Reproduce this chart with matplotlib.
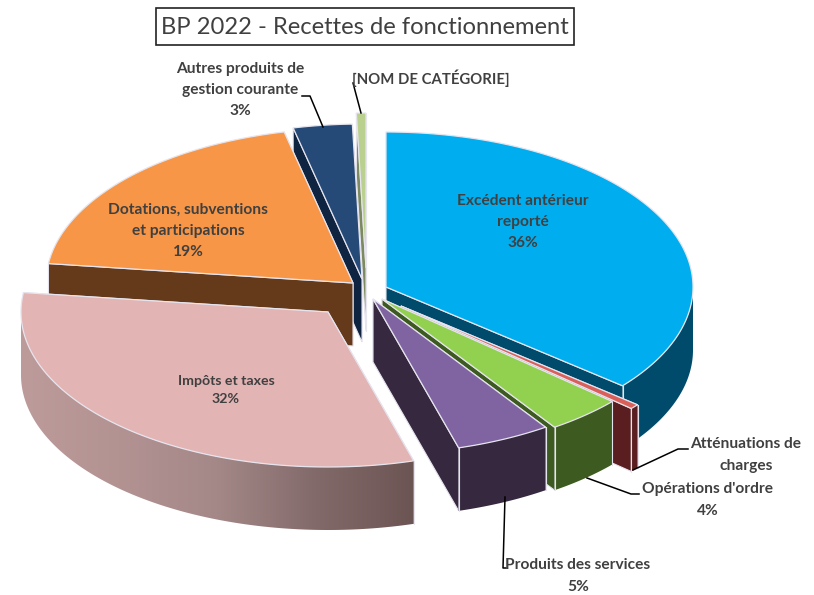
import numpy as np
import matplotlib
matplotlib.use("Agg")
import matplotlib.pyplot as plt
from matplotlib.colors import LinearSegmentedColormap
from matplotlib.patches import Polygon, Rectangle

# 1. Chart data (% of the budget, clockwise from the top)
categories = ["Excédent antérieur reporté", "Atténuations de charges", "Opérations d'ordre",
              "Produits des services", "Impôts et taxes", "Dotations, subventions et participations",
              "Autres produits de gestion courante", "[NOM DE CATÉGORIE]"]
values = [36.0, 0.5, 4.0, 5.0, 31.5, 19.4, 3.1, 0.5]
label_texts = ["Excédent antérieur\nreporté\n36%", "Atténuations de\ncharges", "Opérations d'ordre\n4%",
               "Produits des services\n5%", "Impôts et taxes\n32%", "Dotations, subventions\net participations\n19%",
               "Autres produits de\ngestion courante\n3%", "[NOM DE CATÉGORIE]"]

# 2. Styles and layout, in pixels of the 814x595 picture
top_colors = ["#00aeef", "#d9605a", "#92d050", "#8064a2", "#e2b4b4", "#f79646", "#264a78", "#b9d08f"]
wall_colors = ["#004b6b", "#5a1e20", "#3d5a20", "#35283f", "#b89696", "#643a1a", "#0f2440", "#7c8a60"]
center_x, center_y = 386, 287
radius_x, radius_y = 307, 155
depth = 63
explode_dx = [0, 15, -4, -13, -58, -33, -24, -20]
explode_dy = [0, 19, 12, 12, 25, -4, -8, -19]
label_x = [523, 746, 708, 578, 226, 188, 240, 431]
label_y = [222, 455, 500, 576, 390, 231, 90, 78]
label_sizes = [11.2, 11.2, 11.2, 11.2, 10.2, 11.2, 11.2, 10.7]
draw_order = [7, 6, 0, 1, 2, 5, 3, 4]
edge_color = "#e6e4ee"
text_color = "#404040"
gradient_stops = ["#bd9b9b", "#b39292", "#a48888", "#836a6a", "#6b5553"]
leaders = [[(302, 96), (310, 96), (323, 127)],
           [(353, 83), (361, 113)],
           [(688, 449), (678, 449), (633, 470)],
           [(639, 494), (631, 494), (587, 478)],
           [(506, 568), (503, 568), (505, 497)]]

plt.rcParams["font.family"] = ["Lato", "DejaVu Sans"]
fig = plt.figure(figsize=(8.14, 5.95), dpi=100)
ax = fig.add_axes([0, 0, 1, 1])

# slice limits in degrees, clockwise from the top
bounds = np.cumsum([0] + values) / sum(values) * 360


def rim(i, t):
    t = np.radians(t)
    return (center_x + explode_dx[i] + radius_x * np.sin(t),
            center_y + explode_dy[i] - radius_y * np.cos(t))


# 3. Draw the slices back to front: cut walls, outer wall, then the top
for layer, i in enumerate(draw_order):
    t0, t1 = bounds[i], bounds[i + 1]
    tip_x = center_x + explode_dx[i]
    tip_y = center_y + explode_dy[i]
    z = 1 + layer

    # the two cut faces, the one further back first
    for t in sorted([t0, t1], key=lambda a: -np.cos(np.radians(a))):
        x, y = rim(i, t)
        ax.fill([tip_x, x, x, tip_x], [tip_y, y, y + depth, tip_y + depth],
                facecolor=wall_colors[i], edgecolor=edge_color, linewidth=0.8, zorder=z)

    # outer wall, only the part that faces the viewer
    a0, a1 = max(t0, 90), min(t1, 270)
    if a1 > a0:
        steps = np.linspace(a0, a1, 200)
        wall_x, wall_y = rim(i, steps)
        outline_x = np.r_[wall_x, wall_x[::-1]]
        outline_y = np.r_[wall_y, wall_y[::-1] + depth]
        if i == 4:
            # Impôts et taxes has a left to right shading, painted under a clip
            cmap = LinearSegmentedColormap.from_list("wall", gradient_stops)
            wall = Polygon(np.c_[outline_x, outline_y], closed=True, transform=ax.transData,
                           facecolor="none", edgecolor="none")
            ax.add_patch(wall)
            shade = ax.imshow(np.linspace(0, 1, 256).reshape(1, -1), cmap=cmap, aspect="auto",
                              extent=(wall_x.min(), wall_x.max(), wall_y.max() + depth, wall_y.min()),
                              zorder=z)
            shade.set_clip_path(wall)
        else:
            ax.fill(outline_x, outline_y, facecolor=wall_colors[i], edgecolor="none", zorder=z)
        # light vertical line only on the real corners of the slice
        for a in [a0, a1]:
            if a not in (90, 270):
                x, y = rim(i, a)
                ax.plot([x, x], [y, y + depth], color=edge_color, linewidth=0.8, zorder=z)

    # top face
    arc_x, arc_y = rim(i, np.linspace(t0, t1, 150))
    ax.fill(np.r_[tip_x, arc_x], np.r_[tip_y, arc_y], facecolor=top_colors[i],
            edgecolor=edge_color, linewidth=0.9, joinstyle="miter", zorder=z)

# 4. Leader lines and labels
for line in leaders:
    xs, ys = zip(*line)
    ax.plot(xs, ys, color="black", linewidth=1.1, zorder=20)

for text, x, y, size in zip(label_texts, label_x, label_y, label_sizes):
    ax.text(x, y, text, ha="center", va="center", fontsize=size, fontweight="bold",
            color=text_color, linespacing=1.67, zorder=21)

# 5. Title in its box
ax.add_patch(Rectangle((156, 8), 418, 37, facecolor="white", edgecolor="#222222", linewidth=1.2, zorder=22))
ax.text(365, 27, "BP 2022 - Recettes de fonctionnement", ha="center", va="center",
        fontsize=17.1, color=text_color, zorder=23)

ax.set_xlim(0, 814)
ax.set_ylim(595, 0)
ax.axis("off")

fig.savefig("out.png", dpi=100)
